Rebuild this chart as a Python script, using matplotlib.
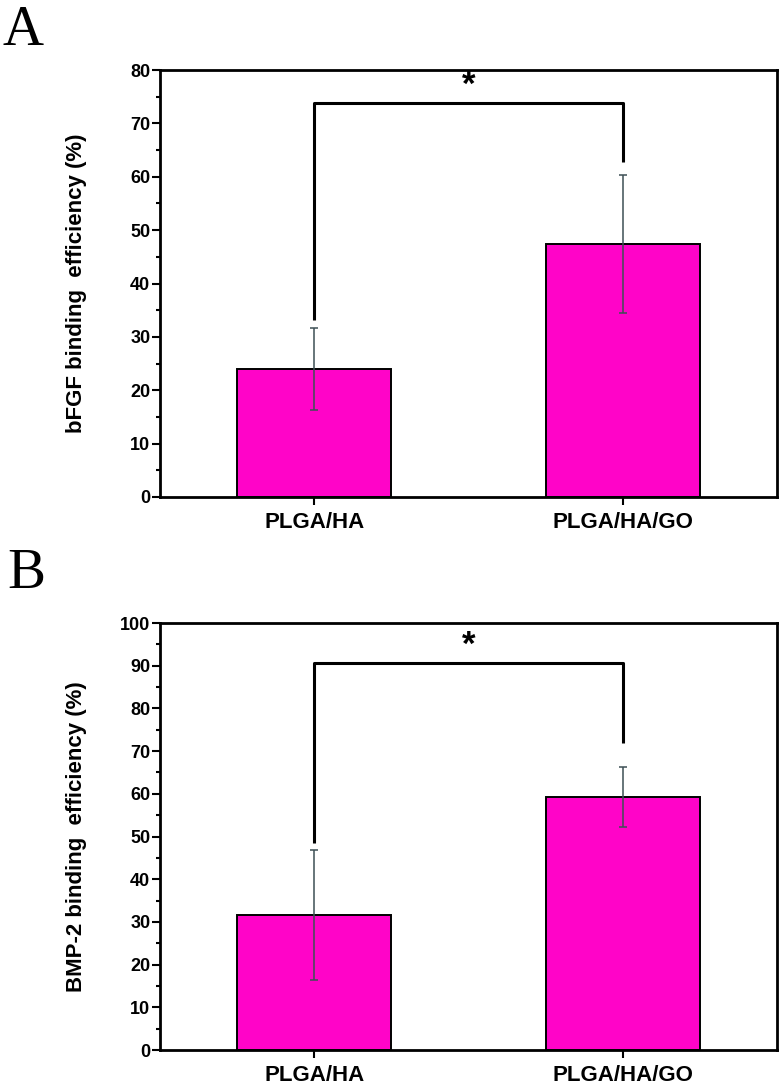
import matplotlib.pyplot as plt
from matplotlib.ticker import MultipleLocator

# data
groups = ['PLGA/HA', 'PLGA/HA/GO']

bfgf_mean = [24.0, 47.4]
bfgf_err = [7.7, 12.9]
bfgf_legs = [33.2, 62.7]     # where the bracket legs stop
bfgf_bracket = 73.8

bmp2_mean = [31.7, 59.3]
bmp2_err = [15.2, 7.0]
bmp2_legs = [48.5, 71.9]
bmp2_bracket = 90.6

bar_color = '#ff04c8'
plt.rcParams['font.family'] = ['Liberation Sans', 'DejaVu Sans']

fig = plt.figure(figsize=(7.82, 10.86), dpi=100)
ax_a = fig.add_axes([0.2046, 0.5424, 0.789, 0.3931])
ax_b = fig.add_axes([0.2046, 0.0331, 0.789, 0.3932])


def panel(ax, mean, err, legs, top, ymax, ylabel):
    x = range(len(groups))
    ax.bar(x, mean, width=0.5, color=bar_color, edgecolor='black', linewidth=1.4, zorder=2)
    ax.errorbar(x, mean, yerr=err, fmt='none', ecolor='#3d4f55', elinewidth=1.1,
                capsize=3, capthick=1.1, zorder=3)
    # significance bracket
    ax.plot([0, 0, 1, 1], [legs[0], top, top, legs[1]], color='black', lw=2.2,
            solid_capstyle='butt', zorder=4)
    ax.text(0.5, top + ymax * 0.004, '*', ha='center', va='bottom', fontsize=25,
            fontweight='bold')

    ax.set_xlim(-0.5, 1.5)
    ax.set_ylim(0, ymax)
    ax.set_xticks(list(x))
    ax.set_xticklabels(groups, fontsize=16, fontweight='bold')
    ax.yaxis.set_major_locator(MultipleLocator(10))
    ax.yaxis.set_minor_locator(MultipleLocator(5))
    ax.tick_params(axis='y', which='major', length=6, width=1.5, labelsize=13, pad=1)
    ax.tick_params(axis='y', which='minor', length=3, width=1.5)
    ax.tick_params(axis='x', which='major', length=6, width=1.5, pad=5)
    for lab in ax.get_yticklabels():
        lab.set_fontweight('bold')
    ax.set_ylabel(ylabel, fontsize=16, fontweight='bold')
    ax.yaxis.set_label_coords(-0.118, 0.5)
    for s in ax.spines.values():
        s.set_linewidth(2)


panel(ax_a, bfgf_mean, bfgf_err, bfgf_legs, bfgf_bracket, 80, 'bFGF binding  efficiency (%)')
panel(ax_b, bmp2_mean, bmp2_err, bmp2_legs, bmp2_bracket, 100, 'BMP-2 binding  efficiency (%)')

fig.text(0.003, 0.995, 'A', fontsize=41, family='Liberation Serif', va='top', ha='left')
fig.text(0.009, 0.495, 'B', fontsize=41, family='Liberation Serif', va='top', ha='left')

fig.savefig('out.png', dpi=100)
